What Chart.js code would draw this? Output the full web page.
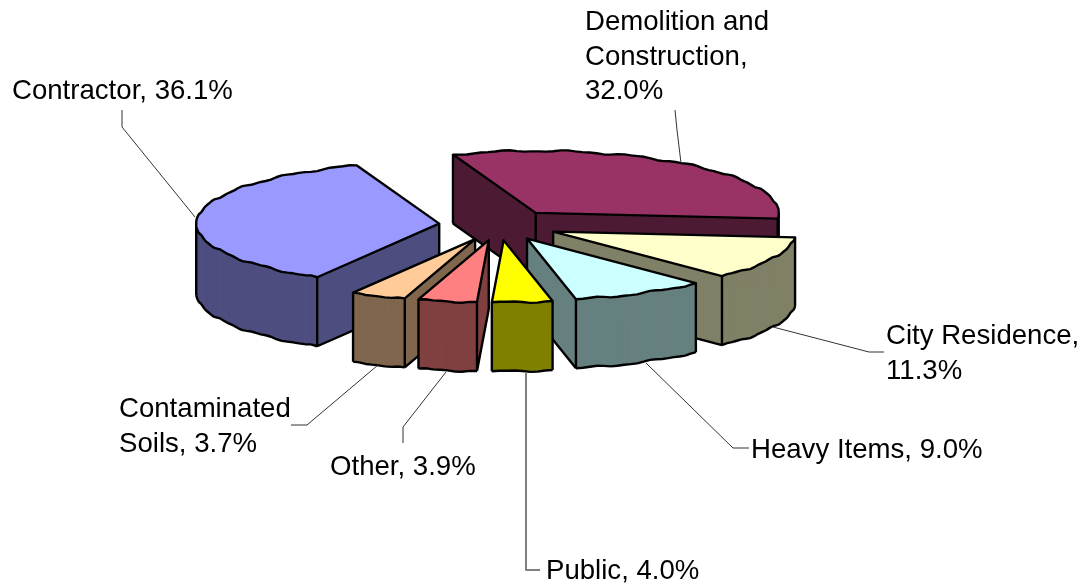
<!DOCTYPE html>
<html>
<head>
<meta charset="utf-8">
<title>Waste by source</title>
<script src="https://cdn.jsdelivr.net/npm/chart.js@4"></script>
<style>
    body { margin: 0; background: #fff; }
    canvas { display: block; }
</style>
</head>
<body>
<canvas id="pieCanvas" width="1082" height="584"></canvas>
<script>
// chart data, clockwise from the Demolition slice
var sources = ["Demolition and Construction", "City Residence", "Heavy Items", "Public", "Other", "Contaminated Soils", "Contractor"];
var shares = [32.0, 11.3, 9.0, 4.0, 3.9, 3.7, 36.1];
var topColors = ["#993366", "#FFFFCC", "#CCFFFF", "#FFFF00", "#FF8080", "#FFCC99", "#9999FF"];
var sideColors = ["#4D1A33", "#808066", "#668080", "#808000", "#804040", "#80664D", "#4D4D80"];

// back slices first so the near ones paint over them
var drawOrder = [6, 0, 1, 2, 5, 4, 3];

// label lines, baseline and leader line for every slice
var labelLines = [
    ["Demolition and", "Construction,", "32.0%"],
    ["City Residence,", "11.3%"],
    ["Heavy Items, 9.0%"],
    ["Public, 4.0%"],
    ["Other, 3.9%"],
    ["Contaminated", "Soils, 3.7%"],
    ["Contractor, 36.1%"]
];
var labelAnchors = [[585, 30], [886, 344], [751, 458], [546, 579], [330, 475], [119, 417], [12, 99]];
var leaders = [
    [[675, 110], [677, 130], [681, 163]],
    [[773, 327], [869, 352], [884, 352]],
    [[646, 363], [733, 448], [749, 448]],
    [[526, 372], [526, 570], [540, 570]],
    [[446, 372], [403, 427], [403, 443]],
    [[378, 365], [307, 425], [291, 425]],
    [[122, 110], [122, 127], [195, 217]]
];

// fake 3D settings
var xRadius = 243;
var yRadius = 62;
var depth = 69;
var explode = 0.247;

function slicePoints(arc) {
    var mid = (arc.startAngle + arc.endAngle) / 2;
    var ax = arc.x + Math.cos(mid) * explode * xRadius;
    var ay = arc.y + Math.sin(mid) * explode * yRadius;
    var pts = [[ax, ay]];
    var steps = Math.max(2, Math.round((arc.endAngle - arc.startAngle) / 0.03));
    for (var i = 0; i <= steps; i++) {
        var a = arc.startAngle + (arc.endAngle - arc.startAngle) * i / steps;
        // the rim of the old renderer is not a clean ellipse
        var bump = (i == 0 || i == steps) ? 0 : 0.8 * Math.sin(a * 23) + 0.4 * Math.sin(a * 53);
        pts.push([ax + Math.cos(a) * xRadius, ay + Math.sin(a) * yRadius + bump]);
    }
    return pts;
}

function drawSlice(ctx, arc, index) {
    var pts = slicePoints(arc);
    var n = pts.length;
    var i, p, q;

    // walls, only the edges that run right to left face the viewer
    ctx.fillStyle = sideColors[index];
    ctx.strokeStyle = sideColors[index];
    ctx.lineWidth = 1;
    for (i = 0; i < n; i++) {
        p = pts[i];
        q = pts[(i + 1) % n];
        if (q[0] < p[0]) {
            ctx.beginPath();
            ctx.moveTo(p[0], p[1]);
            ctx.lineTo(q[0], q[1]);
            ctx.lineTo(q[0], q[1] + depth);
            ctx.lineTo(p[0], p[1] + depth);
            ctx.closePath();
            ctx.fill();
            ctx.stroke();
        }
    }

    // bottom outline and upright edges
    ctx.strokeStyle = "#000";
    ctx.lineWidth = 2.4;
    ctx.lineJoin = "round";
    ctx.beginPath();
    for (i = 0; i < n; i++) {
        p = pts[i];
        q = pts[(i + 1) % n];
        if (q[0] < p[0]) {
            ctx.moveTo(p[0], p[1] + depth);
            ctx.lineTo(q[0], q[1] + depth);
        }
    }
    for (i = 0; i < n; i++) {
        p = pts[i];
        q = pts[(i + 1) % n];
        var r = pts[(i - 1 + n) % n];
        var front = q[0] < p[0];
        var prevFront = p[0] < r[0];
        var corner = i == 0 || i == 1 || i == n - 1;
        if ((corner && (front || prevFront)) || front != prevFront) {
            ctx.moveTo(p[0], p[1]);
            ctx.lineTo(p[0], p[1] + depth);
        }
    }
    ctx.stroke();

    // top face
    ctx.beginPath();
    ctx.moveTo(pts[0][0], pts[0][1]);
    for (i = 1; i < n; i++) {
        ctx.lineTo(pts[i][0], pts[i][1]);
    }
    ctx.closePath();
    ctx.fillStyle = topColors[index];
    ctx.fill();
    ctx.stroke();
}

function drawLabels(ctx) {
    var i, j;
    for (i = 0; i < leaders.length; i++) {
        ctx.beginPath();
        ctx.moveTo(leaders[i][0][0], leaders[i][0][1]);
        for (j = 1; j < leaders[i].length; j++) {
            ctx.lineTo(leaders[i][j][0], leaders[i][j][1]);
        }
        ctx.strokeStyle = i == 3 ? "#808080" : "#333";
        ctx.lineWidth = i == 3 ? 2 : 1;
        ctx.stroke();
    }
    ctx.fillStyle = "#000";
    ctx.font = "27.6px 'Liberation Sans'";
    ctx.textAlign = "left";
    ctx.textBaseline = "alphabetic";
    for (i = 0; i < labelLines.length; i++) {
        for (j = 0; j < labelLines[i].length; j++) {
            ctx.fillText(labelLines[i][j], labelAnchors[i][0], labelAnchors[i][1] + j * 34.5);
        }
    }
}

var pie3d = {
    id: "pie3d",
    beforeDatasetsDraw: function (chart) {
        var ctx = chart.ctx;
        var arcs = chart.getDatasetMeta(0).data;
        ctx.save();
        for (var i = 0; i < drawOrder.length; i++) {
            drawSlice(ctx, arcs[drawOrder[i]], drawOrder[i]);
        }
        drawLabels(ctx);
        ctx.restore();
        return false;
    }
};

var ctx = document.getElementById("pieCanvas");
var pieChart = new Chart(ctx, {
    type: "pie",
    data: {
        labels: sources,
        datasets: [{
            data: shares,
            backgroundColor: topColors,
            borderWidth: 0
        }]
    },
    options: {
        responsive: false,
        animation: false,
        rotation: -19.9,
        layout: { padding: { right: 84, bottom: 134 } },
        plugins: {
            legend: { display: false },
            tooltip: { enabled: false }
        }
    },
    plugins: [pie3d]
});
</script>
</body>
</html>
